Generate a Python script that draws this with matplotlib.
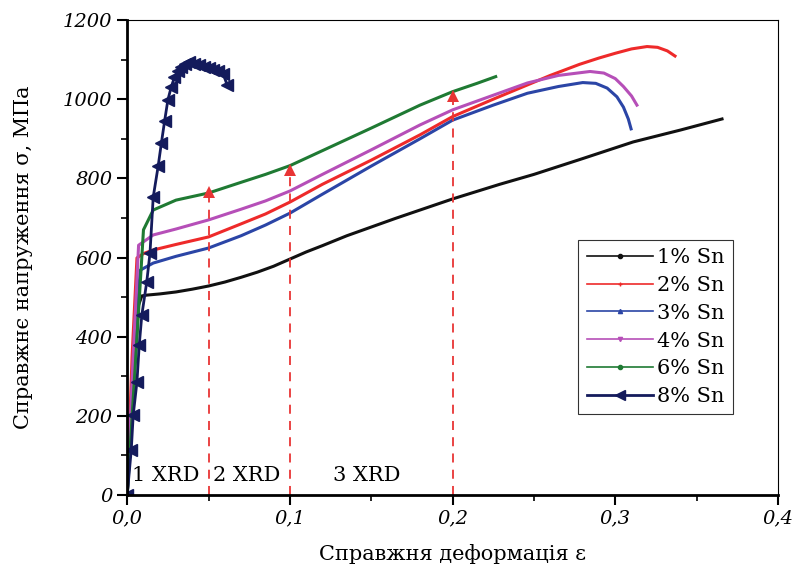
import numpy as np
import matplotlib.pyplot as plt
from matplotlib.ticker import MultipleLocator, FuncFormatter
from matplotlib.lines import Line2D

plt.rcParams['font.family'] = 'DejaVu Serif'

# true strain / true stress (MPa)
eps_1 = [0, 0.004, 0.007, 0.009, 0.012, 0.02, 0.03, 0.04, 0.05, 0.06, 0.07, 0.08, 0.09, 0.1,
         0.11, 0.12, 0.135, 0.15, 0.165, 0.18, 0.2, 0.229, 0.25, 0.28, 0.311, 0.34, 0.3656]
sig_1 = [0, 300, 480, 503, 505, 508, 513, 520, 528, 538, 550, 563, 578, 596,
         614, 630, 655, 677, 699, 720, 748, 785, 810, 850, 892, 922, 950]

eps_2 = [0, 0.003, 0.006, 0.01, 0.016, 0.03, 0.05, 0.07, 0.085, 0.1, 0.12, 0.15, 0.18, 0.2,
         0.225, 0.246, 0.26, 0.278, 0.29, 0.3, 0.31, 0.3195, 0.326, 0.332, 0.3367]
sig_2 = [0, 350, 599, 610, 619, 633, 652, 685, 710, 740, 785, 846, 910, 956,
         1000, 1036, 1060, 1088, 1104, 1116, 1127, 1133, 1131, 1122, 1109]

eps_3 = [0, 0.004, 0.008, 0.016, 0.03, 0.05, 0.07, 0.085, 0.1, 0.12, 0.15, 0.18, 0.2, 0.225,
         0.246, 0.265, 0.28, 0.288, 0.295, 0.301, 0.305, 0.308, 0.3097]
sig_3 = [0, 330, 568, 586, 603, 624, 655, 682, 712, 760, 831, 900, 947, 985,
         1015, 1032, 1042, 1040, 1028, 1006, 980, 950, 925]

eps_4 = [0, 0.004, 0.007, 0.016, 0.03, 0.05, 0.07, 0.085, 0.1, 0.12, 0.15, 0.18, 0.2, 0.225,
         0.246, 0.265, 0.2845, 0.293, 0.3, 0.305, 0.31, 0.3133]
sig_4 = [0, 380, 631, 657, 672, 695, 722, 743, 768, 810, 872, 935, 973, 1010,
         1041, 1060, 1070, 1066, 1052, 1032, 1008, 985]

eps_6 = [0, 0.005, 0.01, 0.016, 0.03, 0.05, 0.07, 0.085, 0.1, 0.12, 0.15, 0.18, 0.2, 0.215,
         0.2265]
sig_6 = [0, 330, 670, 720, 745, 763, 790, 810, 832, 870, 927, 985, 1019, 1040, 1057]

eps_8 = [0, 0.0025, 0.0037, 0.006, 0.0074, 0.009, 0.012, 0.014, 0.016, 0.019, 0.021, 0.023,
         0.025, 0.027, 0.029, 0.031, 0.033, 0.0355, 0.038, 0.041, 0.044, 0.047, 0.05,
         0.053, 0.056, 0.059, 0.0614]
sig_8 = [0, 114, 202, 286, 379, 455, 538, 611, 753, 830, 889, 945, 998, 1030, 1055, 1070,
         1082, 1090, 1094, 1090, 1086, 1082, 1078, 1074, 1070, 1064, 1036]

labels = ['1% Sn', '2% Sn', '3% Sn', '4% Sn', '6% Sn', '8% Sn']
colors = ['#111111', '#ee2a2a', '#2b45a6', '#b64fb8', '#1f7a33', '#141b5c']
markers = ['o', '+', '^', 'v', 'o', '<']

xrd_x = [0.05, 0.1, 0.2]
xrd_top = [778, 834, 1020]
xrd_text = ['1 XRD', '2 XRD', '3 XRD']
xrd_text_x = [0.003, 0.053, 0.1266]

fig = plt.figure(figsize=(7.95, 5.72), dpi=100)
ax = fig.add_axes([0.16, 0.1346, 0.8186, 0.8304])

series = [(eps_1, sig_1), (eps_2, sig_2), (eps_3, sig_3), (eps_4, sig_4), (eps_6, sig_6)]
for (e, s), c in zip(series, colors[:5]):
    ax.plot(e, s, color=c, lw=2.2, solid_joinstyle='round')
ax.plot(eps_8, sig_8, color=colors[5], lw=2.0, marker='<', ms=8)

# XRD arrows
for x, top in zip(xrd_x, xrd_top):
    ax.plot([x, x], [0, top - 20], color='#e83535', lw=1.3, ls=(0, (5, 4)))
    ax.plot([x], [top - 12], marker='^', color='#e83535', ms=9, mew=0)
for t, x in zip(xrd_text, xrd_text_x):
    ax.text(x, 50, t, fontsize=15, va='center', ha='left')

ax.set_xlim(0, 0.4)
ax.set_ylim(0, 1200)
ax.xaxis.set_major_locator(MultipleLocator(0.1))
ax.xaxis.set_minor_locator(MultipleLocator(0.05))
ax.yaxis.set_major_locator(MultipleLocator(200))
ax.yaxis.set_minor_locator(MultipleLocator(100))
ax.xaxis.set_major_formatter(FuncFormatter(lambda v, p: f'{v:.1f}'.replace('.', ',')))
ax.yaxis.set_major_formatter(FuncFormatter(lambda v, p: f'{v:.0f}'))
ax.tick_params(which='major', direction='out', length=7, width=1.5, labelsize=14)
ax.tick_params(which='minor', direction='out', length=4, width=1.2)
for lbl in ax.get_xticklabels() + ax.get_yticklabels():
    lbl.set_fontstyle('italic')
ax.spines['left'].set_linewidth(2)
ax.spines['bottom'].set_linewidth(2)
ax.spines['top'].set_linewidth(0.8)
ax.spines['right'].set_linewidth(0.8)

ax.set_xlabel('Справжня деформація ε', fontsize=15, labelpad=12)
ax.set_ylabel('Справжнє напруження σ, МПа', fontsize=15, labelpad=22)

handles = [Line2D([], [], color=c, lw=1.2, marker=m, ms=3) for c, m in zip(colors[:5], markers[:5])]
handles.append(Line2D([], [], color=colors[5], lw=2.0, marker='<', ms=7))
leg = ax.legend(handles, labels, loc='upper left', bbox_to_anchor=(0.693, 0.537), fontsize=15,
                frameon=True, fancybox=False, edgecolor='black', handlelength=3.2,
                handletextpad=0.2, labelspacing=0.42, borderpad=0.4, borderaxespad=0)
leg.get_frame().set_linewidth(0.8)

fig.savefig('out.png', dpi=100)
